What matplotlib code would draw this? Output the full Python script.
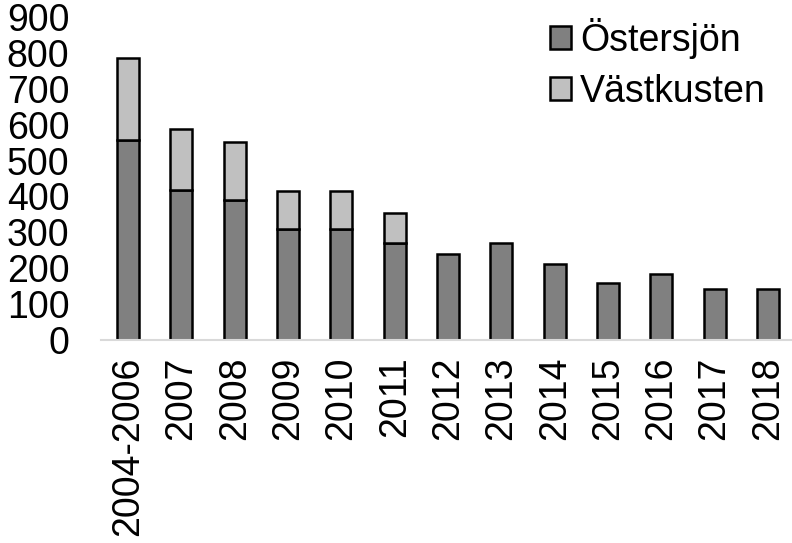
import matplotlib
matplotlib.use("Agg")
import matplotlib.pyplot as plt
import numpy as np

categories = ["2004-2006", "2007", "2008", "2009", "2010", "2011", "2012",
              "2013", "2014", "2015", "2016", "2017", "2018"]
ostersjon = [557, 418, 390, 310, 308, 270, 240, 271, 213, 159, 185, 143, 143]
vastkusten = [228, 171, 163, 106, 106, 85, 0, 0, 0, 0, 0, 0, 0]
yticks = [0, 100, 200, 300, 400, 500, 600, 700, 800, 900]

plt.rcParams['font.family'] = ['Liberation Sans', 'DejaVu Sans']

fig = plt.figure(figsize=(7.92, 5.43), dpi=100)
W, H = 792, 543
x0, x1 = 101.4, 794.6
y0, y1 = 340, 17
ax = fig.add_axes([x0 / W, (H - y0) / H, (x1 - x0) / W, (y0 - y1) / H])

x = np.arange(len(categories))
bw = 0.41
ax.bar(x, ostersjon, bw, color="#808080", edgecolor="black", linewidth=1.8,
       label="Östersjön", zorder=3)
vk = np.array(vastkusten)
mask = vk > 0
ax.bar(x[mask], vk[mask], bw, bottom=np.array(ostersjon)[mask], color="#c0c0c0",
       edgecolor="black", linewidth=1.8, label="Västkusten", zorder=3)

ax.set_xlim(-0.5, len(categories) - 0.5)
ax.set_ylim(0, 900)
ax.set_yticks(yticks)
ax.set_yticklabels([str(v) for v in yticks], fontsize=27)
ax.set_xticks(x)
ax.set_xticklabels(categories, rotation=90, fontsize=27)
ax.tick_params(axis='y', length=0, pad=23)
ax.tick_params(axis='x', length=0, pad=12)

for s in ["top", "right", "left"]:
    ax.spines[s].set_visible(False)
ax.spines["bottom"].set_color("#d9d9d9")
ax.spines["bottom"].set_linewidth(1.5)
ax.spines["bottom"].set_zorder(4)

leg = fig.legend(loc="upper left", bbox_to_anchor=(535 / W, 1 - 3 / H),
                 frameon=False, fontsize=27, handlelength=0.55, handleheight=0.55,
                 handletextpad=0.25, labelspacing=0.4, borderaxespad=0)

fig.savefig("out.png", dpi=100)
